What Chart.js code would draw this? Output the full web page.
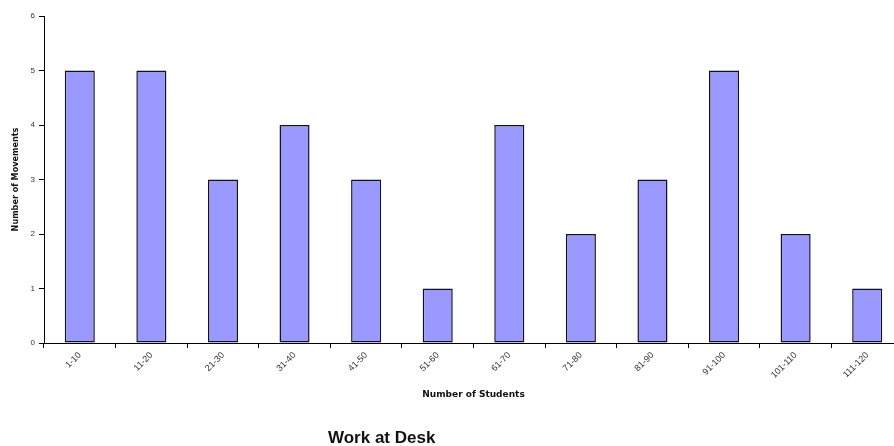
<!DOCTYPE html>
<html>
<head>
<meta charset="utf-8">
<script src="https://cdn.jsdelivr.net/npm/chart.js@4/dist/chart.umd.min.js"></script>
<style>
  html, body { margin: 0; padding: 0; background: #fff; overflow: hidden; }
  #wrap { position: relative; width: 903px; height: 446px; }
  #title {
    position: absolute; left: 328px; top: 428px;
    font: bold 17px "Liberation Sans", Arial, sans-serif; color: #111;
  }
</style>
</head>
<body>
<div id="wrap">
  <canvas id="chart" width="903" height="446"></canvas>
  <div id="title">Work at Desk</div>
</div>
<script>
const categories = ['1-10', '11-20', '21-30', '31-40', '41-50', '51-60', '61-70', '71-80', '81-90', '91-100', '101-110', '111-120'];
const movements = [5, 5, 3, 4, 3, 1, 4, 2, 3, 5, 2, 1];
const yTicks = [0, 1, 2, 3, 4, 5, 6];

const tickFont = { family: '"Liberation Sans", Arial, sans-serif', size: 8 };

new Chart(document.getElementById('chart').getContext('2d'), {
  type: 'bar',
  data: {
    labels: categories,
    datasets: [{
      label: 'Movements',
      data: movements,
      backgroundColor: '#9999ff',
      borderColor: '#111122',
      borderWidth: 1.5,
      borderSkipped: false,
      barPercentage: 0.42,
      categoryPercentage: 1
    }]
  },
  options: {
    responsive: false,
    animation: false,
    layout: { padding: { top: 16, bottom: 46, right: 0 } },
    plugins: { legend: { display: false }, tooltip: { enabled: false } },
    scales: {
      x: {
        offset: true,
        grid: { offset: true, drawOnChartArea: false, color: '#000', tickLength: 5, tickColor: '#000' },
        border: { color: '#000', width: 1 },
        ticks: { font: { family: tickFont.family, size: 9 }, color: '#333', maxRotation: 45, minRotation: 45, padding: 2 },
        title: { display: true, text: 'Number of Students', font: { family: '"DejaVu Sans", sans-serif', size: 9, weight: 'bold' }, color: '#111', padding: 0 },
        afterFit: scale => { scale.height = 57; }
      },
      y: {
        min: 0,
        max: 6,
        afterBuildTicks: scale => { scale.ticks = yTicks.map(v => ({ value: v })); },
        grid: { drawOnChartArea: false, color: '#000', tickLength: 5, tickColor: '#000' },
        border: { color: '#000', width: 1 },
        ticks: { font: tickFont, color: '#333', padding: 4 },
        title: { display: true, text: 'Number of Movements', font: { family: '"DejaVu Sans Condensed", "DejaVu Sans", sans-serif', size: 9, weight: 'bold' }, color: '#111', padding: { top: 10, bottom: 0 } },
        afterFit: scale => { scale.width = 44; }
      }
    }
  }
});
</script>
</body>
</html>
